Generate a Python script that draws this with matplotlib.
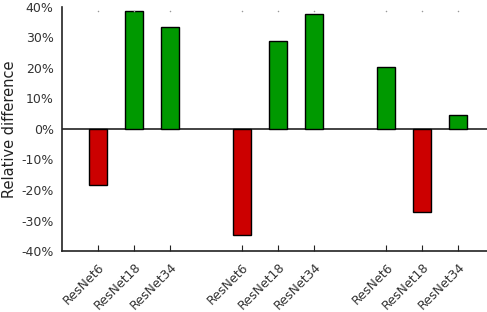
import matplotlib.pyplot as plt
import matplotlib.transforms as mtransforms
from matplotlib.ticker import FuncFormatter

# bar positions (three groups of three) and relative differences in %
positions = [1, 2, 3, 5, 6, 7, 9, 10, 11]
labels = ["ResNet6", "ResNet18", "ResNet34"] * 3
values = [-18.3, 38.7, 33.3, -34.8, 28.8, 37.6, 20.2, -27.2, 4.5]

green = "#009900"
red = "#cc0000"
colors = [green if v >= 0 else red for v in values]

fig = plt.figure(figsize=(4.87, 3.12), dpi=100)
ax = fig.add_axes([0.1273, 0.1955, 0.8727 + 0.015, 0.7821])

ax.bar(positions, values, width=0.5, color=colors, edgecolor="black", linewidth=1, zorder=3)
ax.axhline(0, color="#222222", linewidth=1.2, zorder=2)

ax.set_xlim(0, 12)
ax.set_ylim(-40, 40)
ax.set_yticks(range(-40, 41, 10))
ax.yaxis.set_major_formatter(FuncFormatter(lambda v, p: f"{v:.0f}%"))
ax.set_xticks(positions)
ax.set_xticklabels(labels, rotation=45, ha="right", rotation_mode="anchor")

# nudge the rotated labels a bit to the right like the original
offset = mtransforms.ScaledTranslation(8 / 72, 0, fig.dpi_scale_trans)
for lab in ax.get_xticklabels():
    lab.set_transform(lab.get_transform() + offset)

for s in ["top", "right"]:
    ax.spines[s].set_visible(False)
for s in ["left", "bottom"]:
    ax.spines[s].set_color("#222222")
    ax.spines[s].set_linewidth(1.2)

ax.tick_params(axis="y", length=0, labelsize=9, labelcolor="#333333", pad=6)
ax.tick_params(axis="x", direction="in", length=4, color="#222222",
               labelsize=9, labelcolor="#333333", pad=7)

# little grey marks along the top at each tick position
trans = mtransforms.blended_transform_factory(ax.transData, ax.transAxes)
ax.scatter(positions, [0.985] * len(positions), s=1.2, color="#999999",
           transform=trans, clip_on=False, zorder=4, linewidths=0)

ax.set_ylabel("Relative difference", fontsize=10.5, color="#222222", labelpad=3)

fig.savefig("out.png", dpi=100)
